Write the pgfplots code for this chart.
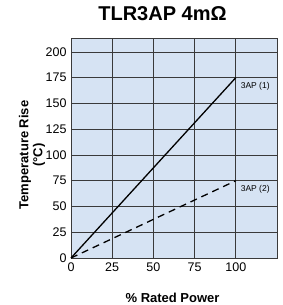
\documentclass[border=0pt]{standalone}
\usepackage{fontspec}
\setmainfont{Liberation Sans}
\usepackage{pgfplots}
\pgfplotsset{compat=1.18}
\definecolor{bgblue}{HTML}{D6E3F3}
\definecolor{gridc}{HTML}{3A3A3A}
\begin{document}
\begin{tikzpicture}
\path[use as bounding box] (-71pt,-47pt) rectangle (212pt,258pt);
\begin{axis}[
  at={(0,0)}, anchor=south west,
  scale only axis, width=206pt, height=220pt,
  xmin=0, xmax=125, ymin=0, ymax=213.5,
  xtick={0,25,50,75,100}, ytick={0,25,50,75,100,125,150,175,200},
  grid=major,
  major grid style={gridc, line width=0.8pt},
  axis line style={gridc, line width=0.8pt},
  major tick length=0pt,
  axis background/.style={fill=bgblue},
  /pgf/number format/assume math mode=true,
  tick label style={font=\fontsize{12.5}{14}\selectfont},
  xticklabel style={yshift=-1pt},
  yticklabel style={xshift=-1pt},
  title={TLR3AP 4mΩ},
  title style={font=\bfseries\fontsize{20}{22}\selectfont, at={(axis description cs:0.444,1)}, anchor=center, yshift=18pt},
  xlabel={\% Rated Power},
  xlabel style={font=\bfseries\fontsize{13}{15}\selectfont, at={(axis description cs:0.493,0)}, anchor=center, yshift=-40pt},
  ylabel={Temperature Rise\\(°C)},
  ylabel style={font=\bfseries\fontsize{13}{14}\selectfont, align=center, at={(axis description cs:0,0.468)}, anchor=center, yshift=39pt},
  clip=false,
]
\addplot[black, line width=1.3pt] coordinates {(0,0) (100,175)}
  node[pos=1, anchor=north west, font=\fontsize{8.5}{10}\selectfont, xshift=1pt, yshift=-1pt] {3AP (1)};
\addplot[black, line width=1.3pt, dash pattern=on 7pt off 5pt] coordinates {(0,0) (100,75)}
  node[pos=1, anchor=north west, font=\fontsize{8.5}{10}\selectfont, xshift=1pt, yshift=-1pt] {3AP (2)};
\end{axis}
\end{tikzpicture}
\end{document}
